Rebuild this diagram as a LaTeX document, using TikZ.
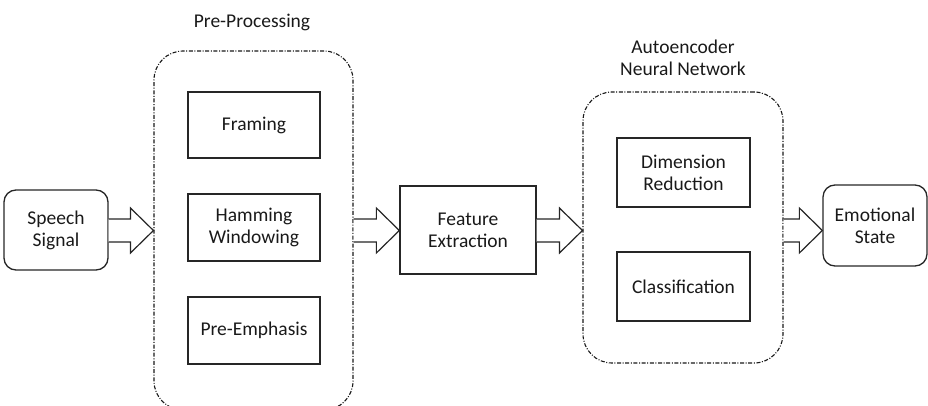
\documentclass[tikz,border=0pt]{standalone}
\usepackage{fontspec}
\setmainfont{Carlito}
\usetikzlibrary{calc}
\begin{document}
\begin{tikzpicture}[x=1pt,y=-1pt,
  every node/.style={font=\fontsize{19.5}{22}\selectfont, align=center, inner sep=2pt, text=black!90},
  plainbox/.style={draw=black!85, line width=1.3pt, fill=white, minimum width=#1, minimum height=67pt},
  softbox/.style={draw=black!85, line width=1.3pt, rounded corners=12pt, minimum width=104pt},
  groupbox/.style={draw=black!90, line width=1.1pt, rounded corners=29pt,
    dash pattern=on 4pt off 1.6pt on 1pt off 1.6pt},
  arrowline/.style={draw=black!85, line width=1.2pt, fill=white, line join=miter}
]
\useasboundingbox (0,0) rectangle (928,406);
\coordinate (axis) at (0,230.5);

% grouping frames
\node[groupbox, minimum width=199pt, minimum height=359pt] (pre) at (253.5,230.5) {};
\node[groupbox, minimum width=200pt, minimum height=271pt] (auto) at (683,227.5) {};
\node (prelabel) at (252,22) {Pre-Processing};
\node (autolabel) at (683,58) {Autoencoder\\Neural Network};

% blocks
\node[softbox, minimum height=80pt] (speech) at (56,230) {Speech\\Signal};
\node[plainbox=132pt, minimum height=66pt] (framing) at (254,125) {Framing};
\node[plainbox=132pt] (hamming) at (254,227.5) {Hamming\\Windowing};
\node[plainbox=132pt] (preemph) at (254,330.5) {Pre-Emphasis};
\node[plainbox=136pt, minimum height=88pt] (feature) at (468,230) {Feature\\Extraction};
\node[plainbox=133pt, minimum height=69pt] (dimred) at (683.5,172.5) {Dimension\\Reduction};
\node[plainbox=133pt, minimum height=69pt] (classif) at (683.5,286.5) {Classification};
\node[softbox, minimum height=81pt] (emo) at (875,225.5) {Emotional\\State};

% hollow block arrows between stages
\newcommand\blockarrow[2]{%
  \draw[arrowline] ($(#1 |- axis)+(0,-11.5)$) -- ($(#2 |- axis)+(-23,-11.5)$)
    -- ($(#2 |- axis)+(-23,-22.5)$) -- (#2 |- axis) -- ($(#2 |- axis)+(-23,22.5)$)
    -- ($(#2 |- axis)+(-23,11.5)$) -- ($(#1 |- axis)+(0,11.5)$);}
\blockarrow{speech.east}{pre.west}
\blockarrow{pre.east}{feature.west}
\blockarrow{feature.east}{auto.west}
\blockarrow{auto.east}{emo.west}
\end{tikzpicture}
\end{document}
